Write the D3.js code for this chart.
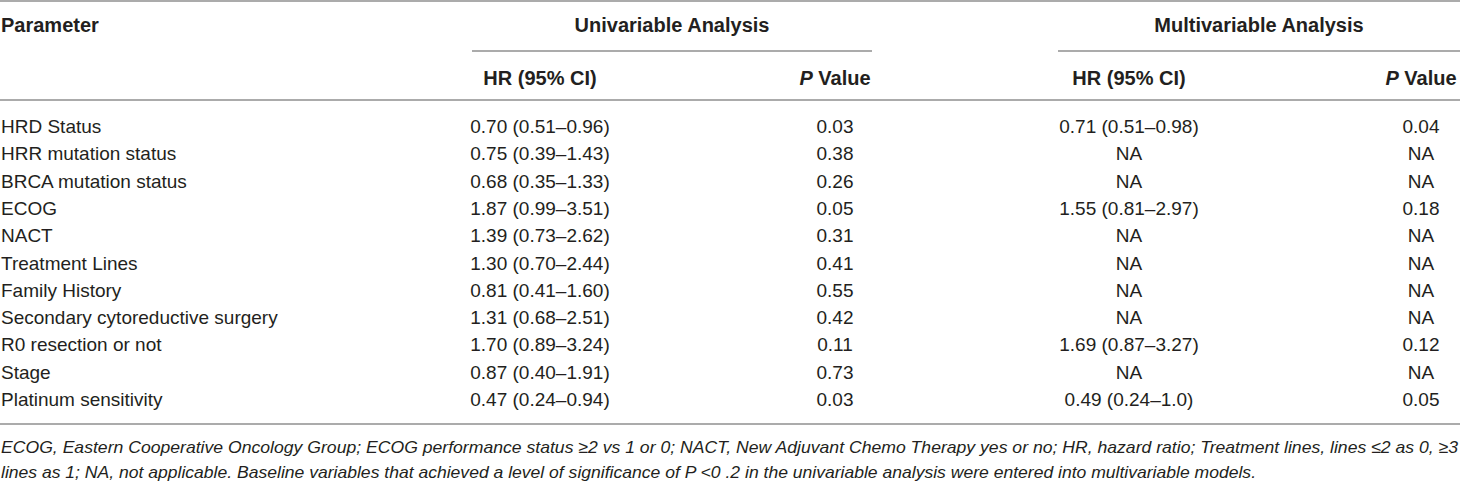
<!DOCTYPE html>
<html>
<head>
<meta charset="utf-8">
<script src="https://cdn.jsdelivr.net/npm/d3@7"></script>
<style>
  html, body { margin: 0; padding: 0; background: #fff; }
  svg { display: block; }
  text { font-family: "Liberation Sans", Arial, Helvetica, sans-serif; fill: #231f20; }
</style>
</head>
<body>
<svg id="chart" width="1460" height="481"></svg>
<script>
const parameters = ["HRD Status","HRR mutation status","BRCA mutation status","ECOG","NACT","Treatment Lines","Family History","Secondary cytoreductive surgery","R0 resection or not","Stage","Platinum sensitivity"];
const uniHR = ["0.70 (0.51–0.96)","0.75 (0.39–1.43)","0.68 (0.35–1.33)","1.87 (0.99–3.51)","1.39 (0.73–2.62)","1.30 (0.70–2.44)","0.81 (0.41–1.60)","1.31 (0.68–2.51)","1.70 (0.89–3.24)","0.87 (0.40–1.91)","0.47 (0.24–0.94)"];
const uniP = ["0.03","0.38","0.26","0.05","0.31","0.41","0.55","0.42","0.11","0.73","0.03"];
const multiHR = ["0.71 (0.51–0.98)","NA","NA","1.55 (0.81–2.97)","NA","NA","NA","NA","1.69 (0.87–3.27)","NA","0.49 (0.24–1.0)"];
const multiP = ["0.04","NA","NA","0.18","NA","NA","NA","NA","0.12","NA","0.05"];
const groupHeaders = ["Univariable Analysis","Multivariable Analysis"];
const footnotes = [
  "ECOG, Eastern Cooperative Oncology Group; ECOG performance status \u22652 vs 1 or 0; NACT, New Adjuvant Chemo Therapy yes or no; HR, hazard ratio; Treatment lines, lines \u22642 as 0, \u22653",
  "lines as 1; NA, not applicable. Baseline variables that achieved a level of significance of P <0 .2 in the univariable analysis were entered into multivariable models."
];

const svg = d3.select("#chart");
const lineColor = "#8f8f8f";

// Row positions (baselines)
const y = d3.scalePoint().domain(parameters).range([133, 406]);
// Column centres
const cols = ["uniHR","uniP","multiHR","multiP"];
const x = d3.scaleOrdinal().domain(cols).range([540, 835, 1129, 1421]);
const colData = {uniHR, uniP, multiHR, multiP};

// Rules
const hl = (x1, x2, yy) => svg.append("line").attr("x1", x1).attr("x2", x2).attr("y1", yy).attr("y2", yy)
  .attr("stroke", lineColor).attr("stroke-width", 1.5);
hl(0, 1460, 1);
hl(472, 872, 51);
hl(1058, 1460, 51);
hl(0, 1460, 100);
hl(0, 1460, 424);

// Header row 1
svg.append("text").attr("x", 1).attr("y", 32).attr("font-size", 20).attr("font-weight", "bold").text("Parameter");
svg.selectAll("text.grp").data(groupHeaders).enter().append("text").attr("class","grp")
  .attr("x", (d,i) => i === 0 ? 672 : 1259).attr("y", 32)
  .attr("text-anchor","middle").attr("font-size", 20).attr("font-weight","bold").text(d => d);

// Header row 2
cols.forEach(c => {
  const t = svg.append("text").attr("x", x(c)).attr("y", 85).attr("text-anchor","middle")
    .attr("font-size", 20).attr("font-weight","bold");
  if (c.endsWith("HR")) t.text("HR (95% CI)");
  else { t.append("tspan").attr("font-style","italic").text("P"); t.append("tspan").text(" Value"); }
});

// Body
svg.selectAll("text.param").data(parameters).enter().append("text").attr("class","param")
  .attr("x", 1).attr("y", d => y(d)).attr("font-size", 19).text(d => d);
cols.forEach(c => {
  svg.selectAll("text.v-" + c).data(colData[c]).enter().append("text").attr("class","v-" + c)
    .attr("x", x(c)).attr("y", (d,i) => y(parameters[i])).attr("text-anchor","middle")
    .attr("font-size", 19).text(d => d);
});

// Footnotes
svg.selectAll("text.fn").data(footnotes).enter().append("text").attr("class","fn")
  .attr("x", 1).attr("y", (d,i) => 453 + i*25).attr("font-size", 17).attr("font-style","italic")
  .attr("textLength", (d,i) => i === 0 ? 1457 : 1255).attr("lengthAdjust","spacingAndGlyphs")
  .text(d => d);
</script>
</body>
</html>
